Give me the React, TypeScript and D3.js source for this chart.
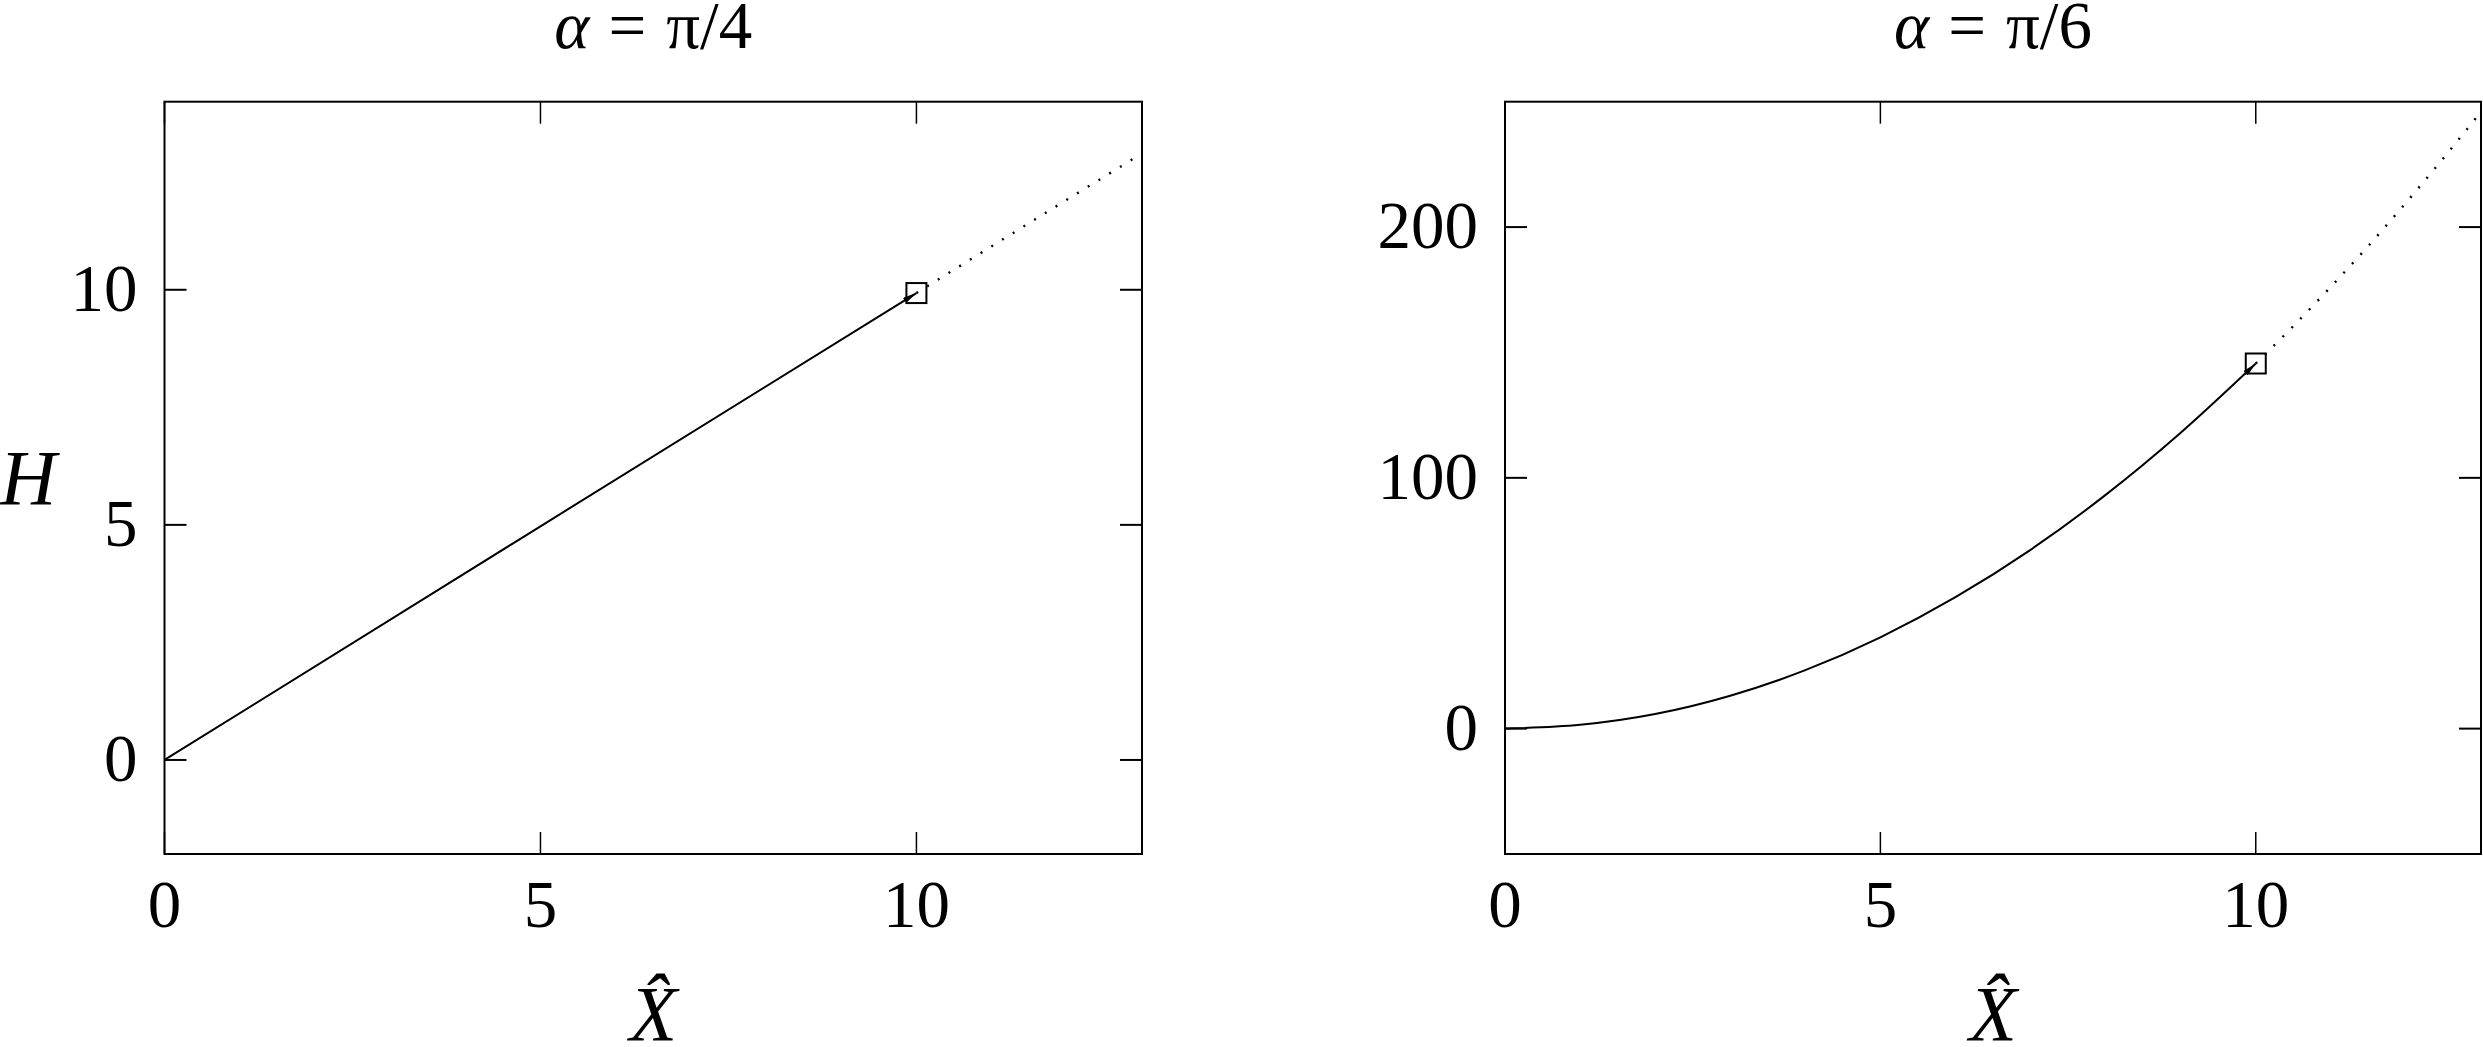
import React from "react";
import * as d3 from "d3";

// ---- data ----
const xTicks = [0, 5, 10];
const leftYTicks = [0, 5, 10];
const rightYTicks = [0, 100, 200];
const titles = ["π/4", "π/6"];

const leftX = [0, 5, 10];
const leftH = [0, 4.97, 9.93];
const leftExtX = [10, 11.5, 13];
const leftExtH = [9.93, 11.42, 12.9];

const rightX = [0, 1, 2, 3, 4, 5, 6, 7, 8, 9, 10];
const rightH = [0, 1.5, 5.8, 13.1, 23.3, 36.4, 52.4, 71.3, 93.2, 118, 145.6];
const rightExtX = [10, 10.5, 11, 11.5, 12, 12.5, 13];
const rightExtH = [145.6, 160.5, 176.2, 192.5, 209.7, 227.5, 246];

// ---- layout ----
const W = 2483;
const H = 1047;
const TOP = 101.7;
const BOTTOM = 854;
const TICK = 22;
const FONT = "'Liberation Serif', 'Times New Roman', serif";
const TICK_FS = 67;
const LABEL_FS = 78;

type PanelProps = {
  x0: number;
  x1: number;
  yDomain: [number, number];
  yTicks: number[];
  xs: number[];
  hs: number[];
  exs: number[];
  ehs: number[];
  title: string;
  showYLabel: boolean;
  id: string;
};

function Panel(p: PanelProps) {
  const x = d3.scaleLinear().domain([0, 13]).range([p.x0, p.x1]);
  const y = d3.scaleLinear().domain(p.yDomain).range([BOTTOM, TOP]);
  const line = d3
    .line<[number, number]>()
    .x((d) => x(d[0]))
    .y((d) => y(d[1]))
    .curve(d3.curveMonotoneX);
  const solid = p.xs.map((v, i) => [v, p.hs[i]] as [number, number]);
  const ext = p.exs.map((v, i) => [v, p.ehs[i]] as [number, number]);
  const last = solid[solid.length - 1];
  const cx = (p.x0 + p.x1) / 2;
  return (
    <g>
      <defs>
        <clipPath id={`clip-${p.id}`}>
          <rect x={p.x0} y={TOP} width={p.x1 - p.x0} height={BOTTOM - TOP} />
        </clipPath>
      </defs>
      {/* frame */}
      <rect
        x={p.x0}
        y={TOP}
        width={p.x1 - p.x0}
        height={BOTTOM - TOP}
        fill="none"
        stroke="#000"
        strokeWidth={2}
      />
      {/* x ticks */}
      {xTicks.map((t) => (
        <g key={`xt${t}`}>
          <line x1={x(t)} x2={x(t)} y1={BOTTOM} y2={BOTTOM - TICK} stroke="#000" strokeWidth={1.5} />
          <line x1={x(t)} x2={x(t)} y1={TOP} y2={TOP + TICK} stroke="#000" strokeWidth={1.5} />
          <text
            x={x(t)}
            y={BOTTOM + 73}
            textAnchor="middle"
            fontFamily={FONT}
            fontSize={TICK_FS}
          >
            {t}
          </text>
        </g>
      ))}
      {/* y ticks */}
      {p.yTicks.map((t) => (
        <g key={`yt${t}`}>
          <line x1={p.x0} x2={p.x0 + TICK} y1={y(t)} y2={y(t)} stroke="#000" strokeWidth={2} />
          <line x1={p.x1} x2={p.x1 - TICK} y1={y(t)} y2={y(t)} stroke="#000" strokeWidth={2} />
          <text
            x={p.x0 - 27}
            y={y(t) + 21}
            textAnchor="end"
            fontFamily={FONT}
            fontSize={TICK_FS}
          >
            {t}
          </text>
        </g>
      ))}
      {/* curves */}
      <g clipPath={`url(#clip-${p.id})`}>
        <path
          d={line(ext) || ""}
          fill="none"
          stroke="#000"
          strokeWidth={2.4}
          strokeDasharray="2 10.6"
        />
      </g>
      <path
        d={line(solid) || ""}
        fill="none"
        stroke="#000"
        strokeWidth={2}
        markerEnd="url(#arrowhead)"
      />
      <rect
        x={x(last[0]) - 10}
        y={y(last[1]) - 10}
        width={20}
        height={20}
        fill="none"
        stroke="#000"
        strokeWidth={2}
      />
      {/* title */}
      <text x={cx} y={48} textAnchor="middle" fontFamily={FONT} fontSize={TICK_FS}>
        <tspan fontStyle="italic">α</tspan>
        <tspan dx={19}>=</tspan>
        <tspan dx={20}>{p.title}</tspan>
      </text>
      {/* x label */}
      <text x={cx} y={1040} textAnchor="middle" fontFamily={FONT} fontSize={LABEL_FS} fontStyle="italic">
        {"X\u0302"}
      </text>
      {p.showYLabel && (
        <text x={0} y={504} fontFamily={FONT} fontSize={LABEL_FS} fontStyle="italic">
          H
        </text>
      )}
    </g>
  );
}

export default function App() {
  return (
    <svg
      width={W}
      height={H}
      style={{ position: "absolute", left: 0, top: 0, background: "#fff" }}
    >
      <defs>
        <marker
          id="arrowhead"
          viewBox="0 0 14 6"
          refX={14}
          refY={3}
          markerWidth={14}
          markerHeight={6}
          markerUnits="userSpaceOnUse"
          orient="auto"
        >
          <path d="M0,0 L14,3 L0,6 z" fill="#000" />
        </marker>
      </defs>
      <rect x={0} y={0} width={W} height={H} fill="#fff" />
      <Panel
        id="l"
        x0={164.5}
        x1={1142}
        yDomain={[-2, 14]}
        yTicks={leftYTicks}
        xs={leftX}
        hs={leftH}
        exs={leftExtX}
        ehs={leftExtH}
        title={titles[0]}
        showYLabel={true}
      />
      <Panel
        id="r"
        x0={1505}
        x1={2481}
        yDomain={[-50, 250]}
        yTicks={rightYTicks}
        xs={rightX}
        hs={rightH}
        exs={rightExtX}
        ehs={rightExtH}
        title={titles[1]}
        showYLabel={false}
      />
    </svg>
  );
}
